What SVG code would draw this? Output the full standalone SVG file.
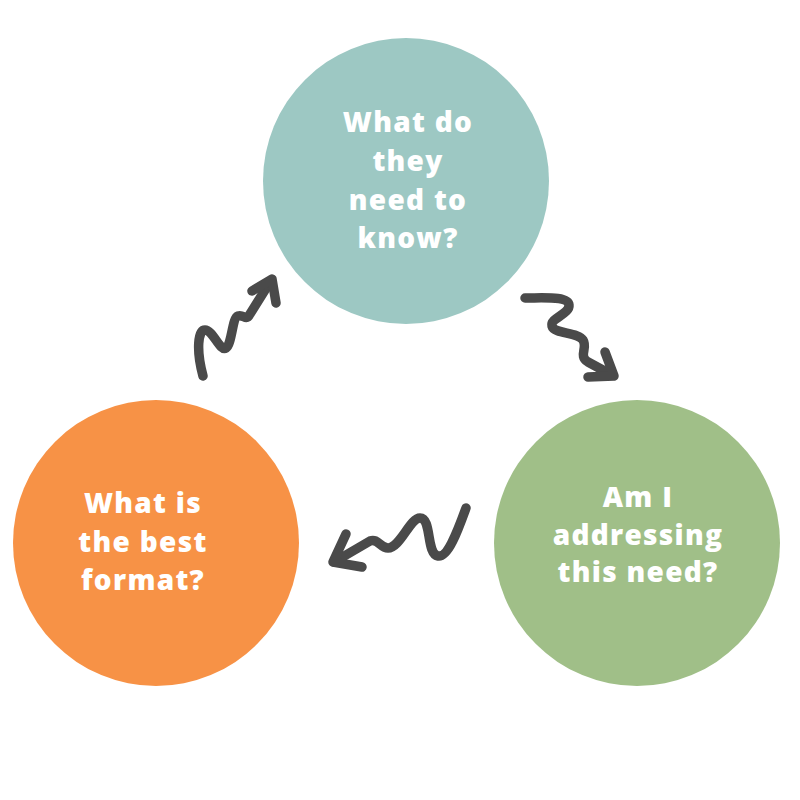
<svg xmlns="http://www.w3.org/2000/svg" width="800" height="800" viewBox="0 0 800 800">
<style>
  .lbl { font-family: "Open Sans", "Liberation Sans", sans-serif; font-weight: 800; font-size: 28px; letter-spacing: 1.3px; fill: #ffffff; text-anchor: middle; }
  .arr { fill: none; stroke: #4a4a4a; stroke-width: 9.5; stroke-linecap: round; stroke-linejoin: round; }
</style>
<rect width="800" height="800" fill="#ffffff"/>
<g id="node-know">
  <circle cx="406" cy="181" r="143" fill="#9dc8c3"/>
  <text class="lbl" x="408" y="132">What do</text>
  <text class="lbl" x="408" y="171">they</text>
  <text class="lbl" x="408" y="210">need to</text>
  <text class="lbl" x="408" y="248">know?</text>
</g>
<g id="node-addressing">
  <circle cx="637" cy="543" r="143" fill="#a0bf88"/>
  <text class="lbl" x="638" y="507">Am I</text>
  <text class="lbl" x="638" y="545">addressing</text>
  <text class="lbl" x="638" y="582">this need?</text>
</g>
<g id="node-format">
  <circle cx="156" cy="543" r="143" fill="#f79246"/>
  <text class="lbl" x="143" y="513">What is</text>
  <text class="lbl" x="143" y="552">the best</text>
  <text class="lbl" x="143" y="590">format?</text>
</g>
<g id="connectors">
  <path class="arr" d="M203,376 C196,350 198,330 205,330 C213,330 220,352 226,348 C232,344 232,318 238,316 C244,314 246,322 250,314 L270,282"/>
  <path class="arr" d="M252,291 L272,279 L276,303"/>
  <path class="arr" d="M525,298 C545,298 568,296 569,305 C570,314 550,318 552,326 C554,334 578,332 583,340 C588,348 578,356 588,362 L612,375"/>
  <path class="arr" d="M605,352 L614,376 L588,377"/>
  <path class="arr" d="M466,508 C458,530 448,558 438,556 C426,554 432,518 420,518 C410,518 400,548 388,548 C380,548 378,538 370,541 L334,562"/>
  <path class="arr" d="M346,534 L333,562 L362,567"/>
</g>
</svg>
